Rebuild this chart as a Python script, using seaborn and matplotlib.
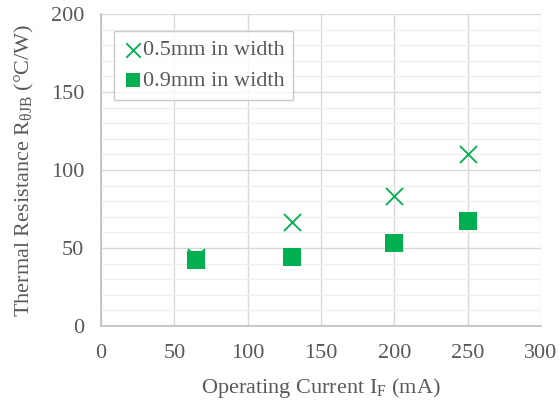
import matplotlib
matplotlib.use("Agg")
import matplotlib.pyplot as plt
from matplotlib.ticker import MultipleLocator
import seaborn as sns

current_ma = [65, 130, 200, 250]
r_05mm = [44.5, 66.5, 83.5, 110.0]
r_09mm = [42.0, 44.0, 53.0, 67.5]
series_labels = ["0.5mm in width", "0.9mm in width"]

sns.set_theme(style="white")
plt.rcParams["font.family"] = ["Liberation Serif", "DejaVu Serif"]
plt.rcParams["mathtext.fontset"] = "custom"
plt.rcParams["mathtext.rm"] = "Liberation Serif"
plt.rcParams["mathtext.it"] = "Liberation Serif"

green = "#00B050"
text_grey = "#595959"
grid_grey = "#D9D9D9"
fs = 16

fig = plt.figure(figsize=(5.59, 4.08), dpi=100)
ax = fig.add_axes([101 / 559, 82 / 408, 440 / 559, 312 / 408])

sns.scatterplot(x=current_ma, y=r_05mm, marker="x", color=green, s=150,
                linewidth=1.3, label=series_labels[0], ax=ax, zorder=3)
sns.scatterplot(x=current_ma, y=r_09mm, marker="s", color=green, s=150,
                linewidth=0, label=series_labels[1], ax=ax, zorder=4)

ax.set_xlim(0, 300)
ax.set_ylim(0, 200)
ax.xaxis.set_major_locator(MultipleLocator(50))
ax.yaxis.set_major_locator(MultipleLocator(50))
ax.yaxis.set_minor_locator(MultipleLocator(10))
ax.grid(True, which="major", color=grid_grey, linewidth=1.0, zorder=0)
ax.grid(True, which="minor", axis="y", color="#EFEFEF", linewidth=1.0, zorder=0)
ax.set_axisbelow(True)

for side in ["top", "right"]:
    ax.spines[side].set_visible(False)
for side in ["left", "bottom"]:
    ax.spines[side].set_color("#BFBFBF")
    ax.spines[side].set_linewidth(1.2)

ax.tick_params(axis="both", which="both", length=0, labelsize=fs,
               labelcolor=text_grey)
ax.tick_params(axis="x", pad=13)
ax.tick_params(axis="y", pad=12)

ax.set_xlabel(r"Operating Current I$_\mathrm{F}$ (mA)", fontsize=fs,
              color=text_grey, labelpad=9)
ax.set_ylabel(r"Thermal Resistance R$_{\mathrm{\theta JB}}$ (°C/W)",
              fontsize=fs, color=text_grey, labelpad=11)

leg = ax.legend(
    loc="upper left", bbox_to_anchor=(13 / 440, 1 - 17 / 312),
    fontsize=fs, frameon=True, fancybox=False, handletextpad=0.0,
    handlelength=0.9, borderpad=0.4, labelspacing=0.45, borderaxespad=0,
    markerscale=0.85,
)
leg.get_frame().set_edgecolor("#BFBFBF")
leg.get_frame().set_linewidth(1.0)
for t in leg.get_texts():
    t.set_color(text_grey)

fig.savefig("out.png", dpi=100)
